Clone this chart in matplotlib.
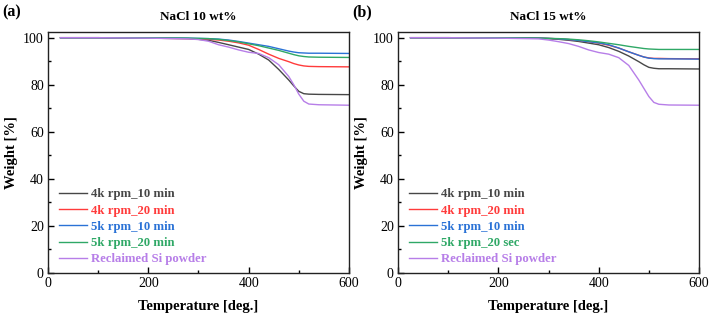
import numpy as np
import matplotlib.pyplot as plt

plt.rcParams['font.family'] = ['Liberation Serif', 'DejaVu Serif']

# temperature grid [deg.]
temp = [25, 100, 200, 280, 300, 320, 340, 360, 380, 400, 420, 440, 460, 480, 490, 500, 510, 520, 540, 600]

# NaCl 10 wt%
a_4k10 = [100, 100, 99.8, 99.6, 99.3, 98.9, 98.0, 97.0, 96.0, 95.0, 93.0, 90.5, 86.5, 82.0, 79.5, 77.2, 76.2, 76.0, 75.9, 75.8]
a_4k20 = [100, 100, 99.8, 99.6, 99.5, 99.3, 99.0, 98.5, 97.8, 96.8, 95.0, 93.0, 91.2, 89.8, 89.0, 88.4, 88.0, 87.8, 87.7, 87.6]
a_5k10 = [100, 100, 99.9, 99.8, 99.7, 99.6, 99.4, 99.0, 98.4, 97.7, 97.0, 96.3, 95.3, 94.3, 93.9, 93.6, 93.5, 93.4, 93.4, 93.3]
a_5k20 = [100, 100, 99.9, 99.8, 99.7, 99.6, 99.3, 98.8, 98.2, 97.4, 96.6, 95.6, 94.6, 93.4, 92.8, 92.3, 92.0, 91.8, 91.7, 91.6]
a_si = [100, 100, 99.8, 99.5, 99.2, 98.5, 97.0, 96.0, 94.8, 93.8, 93.3, 91.5, 88.5, 83.5, 80.0, 76.0, 73.0, 71.8, 71.5, 71.3]

# NaCl 15 wt%
b_4k10 = [100, 100, 99.9, 99.8, 99.6, 99.3, 98.9, 98.4, 97.7, 97.0, 95.8, 94.2, 92.2, 89.8, 88.5, 87.4, 87.0, 86.8, 86.8, 86.7]
b_4k20 = [100, 100, 99.9, 99.8, 99.7, 99.5, 99.2, 98.8, 98.3, 97.7, 96.8, 95.6, 94.0, 92.5, 91.8, 91.4, 91.2, 91.2, 91.1, 91.0]
b_5k10 = [100, 100, 99.9, 99.8, 99.7, 99.5, 99.2, 98.8, 98.3, 97.8, 97.0, 95.6, 94.0, 92.5, 91.8, 91.3, 91.1, 91.0, 91.0, 90.9]
b_5k20 = [100, 100, 99.9, 99.8, 99.7, 99.6, 99.4, 99.1, 98.7, 98.2, 97.6, 97.0, 96.3, 95.7, 95.4, 95.2, 95.1, 95.0, 95.0, 95.0]
b_si = [100, 100, 99.8, 99.5, 99.0, 98.3, 97.5, 96.3, 94.8, 93.7, 93.0, 91.5, 88.2, 82.0, 78.5, 75.0, 72.5, 71.7, 71.4, 71.3]

colors = ['#474747', '#ff3b3b', '#2a72d6', '#2fa866', '#b77ee8']
labels_a = ['4k rpm_10 min', '4k rpm_20 min', '5k rpm_10 min', '5k rpm_20 min', 'Reclaimed Si powder']
labels_b = ['4k rpm_10 min', '4k rpm_20 min', '5k rpm_10 min', '5k rpm_20 sec', 'Reclaimed Si powder']

fig = plt.figure(figsize=(7.09, 3.15), dpi=100)
ax1 = fig.add_axes([0.0677, 0.1333, 0.4245, 0.765])
ax2 = fig.add_axes([0.5614, 0.1333, 0.4245, 0.765])

panels = [
    (ax1, [a_4k10, a_4k20, a_5k10, a_5k20, a_si], labels_a, 'NaCl 10 wt%', '(a)', 0.003),
    (ax2, [b_4k10, b_4k20, b_5k10, b_5k20, b_si], labels_b, 'NaCl 15 wt%', '(b)', 0.497),
]

for ax, series, labels, title, tag, tx in panels:
    for y, c, lab in zip(series, colors, labels):
        ax.plot(temp, y, color=c, lw=1.0, label=lab)
    ax.set_xlim(0, 600)
    ax.set_ylim(0, 102.4)
    ax.set_xticks([0, 200, 400, 600])
    ax.set_xticks([100, 300, 500], minor=True)
    ax.set_yticks([0, 20, 40, 60, 80, 100])
    ax.set_yticks([10, 30, 50, 70, 90], minor=True)
    ax.tick_params(direction='in', which='major', length=4, width=1, labelsize=10, pad=3)
    ax.tick_params(direction='in', which='minor', length=2.5, width=1)
    for s in ax.spines.values():
        s.set_linewidth(1.0)
        s.set_color('#222222')
    ax.set_xlabel('Temperature [deg.]', fontsize=10.5, fontweight='bold', labelpad=7)
    ax.set_ylabel('Weight [%]', fontsize=10.5, fontweight='bold', labelpad=4)
    ax.set_title(title, fontsize=9.5, fontweight='bold', pad=9)
    leg = ax.legend(loc='lower left', frameon=False, handlelength=2.2,
                    handletextpad=0.3, labelspacing=0.33, borderaxespad=0.2,
                    bbox_to_anchor=(0.01, 0.0), prop={'weight': 'bold', 'size': 9.2})
    for t, c in zip(leg.get_texts(), colors):
        t.set_color(c)
    fig.text(tx, 0.985, tag, fontsize=11.5, fontweight='bold', va='top', ha='left')

fig.savefig('out.png', dpi=100)
